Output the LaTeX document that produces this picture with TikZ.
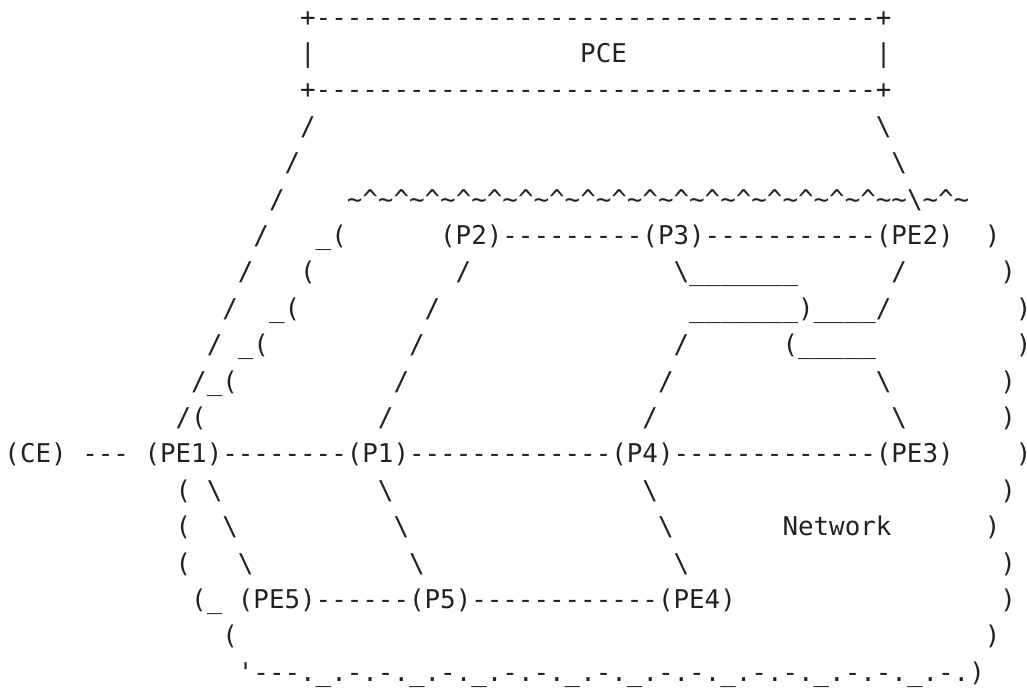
\documentclass[tikz,border=0pt]{standalone}
\usepackage{fontspec}
\setmonofont{DejaVu Sans Mono}
\definecolor{ink}{RGB}{34,34,34}
\newcommand\bsl{\textbackslash}
\newcommand\usc{\textunderscore}
\newcommand\tld{\textasciitilde}
\newcommand\crt{\textasciicircum}
\newcommand\tok[4]{\node[txt] (#1) at ({4.5+#2*15.56},{-26-(#3-1)*36.4}) {#4};}
\begin{document}
\begin{tikzpicture}[x=1pt,y=1pt,
  txt/.style={anchor=base west, inner sep=0pt, outer sep=0pt, text=ink,
    font=\ttfamily\fontsize{25.85}{30}\selectfont}]
\useasboundingbox (0,0) rectangle (1027,-694);
% PCE box
\tok{pceTop}{19}{1}{+------------------------------------+}
\tok{pceL}{19}{2}{|}
\tok{pce}{37}{2}{PCE}
\tok{pceR}{56}{2}{|}
\tok{pceBot}{19}{3}{+------------------------------------+}
% row 4-6
\tok{a4}{19}{4}{/}
\tok{b4}{56}{4}{\bsl}
\tok{a5}{18}{5}{/}
\tok{b5}{57}{5}{\bsl}
\tok{a6}{17}{6}{/}
\tok{wave}{22}{6}{\tld\crt\tld\crt\tld\crt\tld\crt\tld\crt\tld\crt\tld\crt\tld\crt\tld\crt\tld\crt\tld\crt\tld\crt\tld\crt\tld\crt\tld\crt\tld\crt\tld\crt\tld\tld\bsl\tld\crt\tld}
% row 7
\tok{a7}{16}{7}{/}
\tok{c7}{20}{7}{\usc(}
\tok{P2}{28}{7}{(P2)}
\tok{d7a}{32}{7}{---------}
\tok{P3}{41}{7}{(P3)}
\tok{d7b}{45}{7}{-----------}
\tok{PE2}{56}{7}{(PE2)}
\tok{e7}{63}{7}{)}
% row 8
\tok{a8}{15}{8}{/}
\tok{c8}{19}{8}{(}
\tok{f8}{29}{8}{/}
\tok{g8}{43}{8}{\bsl\usc\usc\usc\usc\usc\usc\usc}
\tok{h8}{57}{8}{/}
\tok{e8}{64}{8}{)}
% row 9
\tok{a9}{14}{9}{/}
\tok{c9}{17}{9}{\usc(}
\tok{f9}{27}{9}{/}
\tok{g9}{44}{9}{\usc\usc\usc\usc\usc\usc\usc)\usc\usc\usc\usc/}
\tok{e9}{65}{9}{)}
% row 10
\tok{a10}{13}{10}{/}
\tok{c10}{15}{10}{\usc(}
\tok{f10}{26}{10}{/}
\tok{g10}{43}{10}{/}
\tok{h10}{50}{10}{(\usc\usc\usc\usc\usc}
\tok{e10}{65}{10}{)}
% row 11
\tok{a11}{12}{11}{/\usc(}
\tok{f11}{25}{11}{/}
\tok{g11}{42}{11}{/}
\tok{h11}{56}{11}{\bsl}
\tok{e11}{64}{11}{)}
% row 12
\tok{a12}{11}{12}{/(}
\tok{f12}{24}{12}{/}
\tok{g12}{41}{12}{/}
\tok{h12}{57}{12}{\bsl}
\tok{e12}{64}{12}{)}
% row 13
\tok{CE}{0}{13}{(CE)}
\tok{d13a}{5}{13}{---}
\tok{PE1}{9}{13}{(PE1)}
\tok{d13b}{14}{13}{--------}
\tok{P1}{22}{13}{(P1)}
\tok{d13c}{26}{13}{-------------}
\tok{P4}{39}{13}{(P4)}
\tok{d13d}{43}{13}{-------------}
\tok{PE3}{56}{13}{(PE3)}
\tok{e13}{65}{13}{)}
% row 14-16
\tok{a14}{11}{14}{(}
\tok{b14}{13}{14}{\bsl}
\tok{f14}{24}{14}{\bsl}
\tok{g14}{41}{14}{\bsl}
\tok{e14}{64}{14}{)}
\tok{a15}{11}{15}{(}
\tok{b15}{14}{15}{\bsl}
\tok{f15}{25}{15}{\bsl}
\tok{g15}{42}{15}{\bsl}
\tok{net}{50}{15}{Network}
\tok{e15}{63}{15}{)}
\tok{a16}{11}{16}{(}
\tok{b16}{15}{16}{\bsl}
\tok{f16}{26}{16}{\bsl}
\tok{g16}{43}{16}{\bsl}
\tok{e16}{64}{16}{)}
% row 17
\tok{a17}{12}{17}{(\usc}
\tok{PE5}{15}{17}{(PE5)}
\tok{d17a}{20}{17}{------}
\tok{P5}{26}{17}{(P5)}
\tok{d17b}{30}{17}{------------}
\tok{PE4}{42}{17}{(PE4)}
\tok{e17}{64}{17}{)}
% row 18-19
\tok{a18}{14}{18}{(}
\tok{e18}{63}{18}{)}
\tok{bottom}{15}{19}{'---.\usc.-.-.\usc.-.\usc.-.-.\usc.-.\usc.-.-.\usc.-.-.\usc.-.-.\usc.-.)}
\end{tikzpicture}
\end{document}
